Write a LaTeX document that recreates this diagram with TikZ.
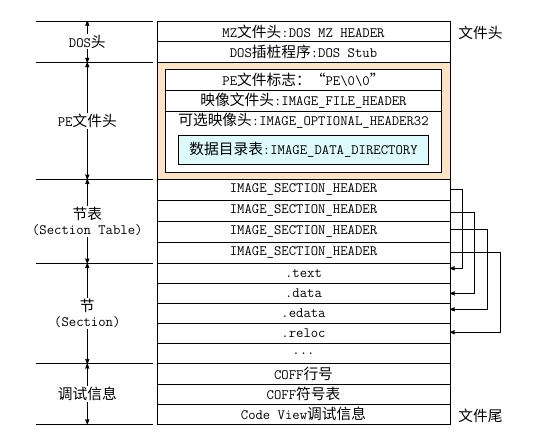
\documentclass[tikz,border=0pt]{standalone}
\usepackage{fontspec}
\setmainfont{Latin Modern Mono}
\newfontfamily\cjk{Noto Sans CJK SC}[Scale=1.03]
\newcommand{\cn}[1]{{\cjk #1}}
\usetikzlibrary{positioning}
\usetikzlibrary{arrows}
\definecolor{pecolor}{RGB}{253,226,196}
\definecolor{ddcolor}{RGB}{221,250,252}
\tikzstyle{row} = [draw, minimum width=293pt, minimum height=20.1pt, inner sep=0pt, outer sep=0pt]
\tikzstyle{inrow} = [row, minimum width=276.7pt, minimum height=21pt]
\tikzstyle{dimlabel} = [fill=white, inner sep=1pt, align=center]
\tikzstyle{link} = [->]
\tikzset{>={stealth'}}

\begin{document}
\begin{tikzpicture}[x=1pt, y=-1pt, line width=0.8pt, font=\fontsize{14.3}{15}\selectfont]
  \useasboundingbox (0,0) rectangle (536,442);
  % DOS header
  \node[row, anchor=north, minimum height=20.75pt] (mz) at (303.5,21) {MZ\cn{文件头}:DOS MZ HEADER};
  \node[row, minimum height=20.75pt, below=0pt of mz] (stub) {DOS\cn{插桩程序}:DOS Stub};
  % PE header
  \node[row, fill=pecolor, minimum height=116.8pt, below=0pt of stub] (pe) {};
  \node[inrow, fill=white, anchor=north, minimum height=103pt] (inbox) at (303.5,69.3) {};
  \node[inrow, anchor=north] (sig) at (inbox.north) {PE\cn{文件标志：“}PE\textbackslash 0\textbackslash 0\cn{”}};
  \node[inrow, minimum height=20.7pt, below=0pt of sig] (fh) {\cn{映像文件头}:IMAGE\_FILE\_HEADER};
  \node[inrow, draw=none, minimum height=20pt, below=0pt of fh] (opt) {\cn{可选映像头}:IMAGE\_OPTIONAL\_HEADER32};
  \node[draw, fill=ddcolor, minimum width=250.4pt, minimum height=29.3pt, inner sep=0pt, below=4pt of opt] (dd) {\cn{数据目录表}:IMAGE\_DATA\_DIRECTORY};
  % section table
  \node[row, minimum height=21pt, below=0pt of pe] (sh1) {IMAGE\_SECTION\_HEADER};
  \node[row, minimum height=21pt, below=0pt of sh1] (sh2) {IMAGE\_SECTION\_HEADER};
  \node[row, minimum height=21pt, below=0pt of sh2] (sh3) {IMAGE\_SECTION\_HEADER};
  \node[row, minimum height=21pt, below=0pt of sh3] (sh4) {IMAGE\_SECTION\_HEADER};
  % sections and debug info
  \node[row, below=0pt of sh4] (text) {.text};
  \node[row, below=0pt of text] (data) {.data};
  \node[row, below=0pt of data] (edata) {.edata};
  \node[row, below=0pt of edata] (reloc) {.reloc};
  \node[row, below=0pt of reloc] (dots) {...};
  \node[row, below=0pt of dots] (coff1) {COFF\cn{行号}};
  \node[row, below=0pt of coff1] (coff2) {COFF\cn{符号表}};
  \node[row, below=0pt of coff2] (cv) {Code View\cn{调试信息}};
  % right labels
  \node[anchor=west, inner sep=0pt] (fhead) at ([xshift=8pt,yshift=-1.5pt]mz.east) {\cn{文件头}};
  \node[anchor=west, inner sep=0pt] (ftail) at ([xshift=8pt,yshift=-2pt]cv.east) {\cn{文件尾}};
  % section header links
  \draw[link] (sh1.east) -- ++(12.3,0) |- ([yshift=5pt]text.east);
  \draw[link] ([yshift=-1.5pt]sh2.east) -- ++(24.3,0) |- (data.east);
  \draw[link] ([yshift=2.7pt]sh3.east) -- ++(37.3,0) |- ([yshift=4.2pt]edata.east);
  \draw[link] (sh4.east) -- ++(50,0) |- ([yshift=1.4pt]reloc.east);
  % left dimensions
  \coordinate (lx) at (87.3,0);
  \coordinate (d0) at (lx |- mz.north);
  \coordinate (d1) at (lx |- stub.south);
  \coordinate (d2) at (lx |- pe.south);
  \coordinate (d3) at (lx |- sh4.south);
  \coordinate (d4) at (lx |- dots.south);
  \coordinate (d5) at (lx |- cv.south);
  \foreach \i in {0,...,5} {
    \draw ([xshift=-51.3pt]d\i) -- ([xshift=65.7pt]d\i);
  }
  \foreach \a/\b/\t in {d0/d1/{DOS\cn{头}}, d1/d2/{PE\cn{文件头}}, d2/d3/{\cn{节表}\\(Section Table)}, d3/d4/{\cn{节}\\(Section)}, d4/d5/{\cn{调试信息}}} {
    \draw[<->] (\a) -- (\b) node[midway, dimlabel] {\t};
  }
\end{tikzpicture}
\end{document}
